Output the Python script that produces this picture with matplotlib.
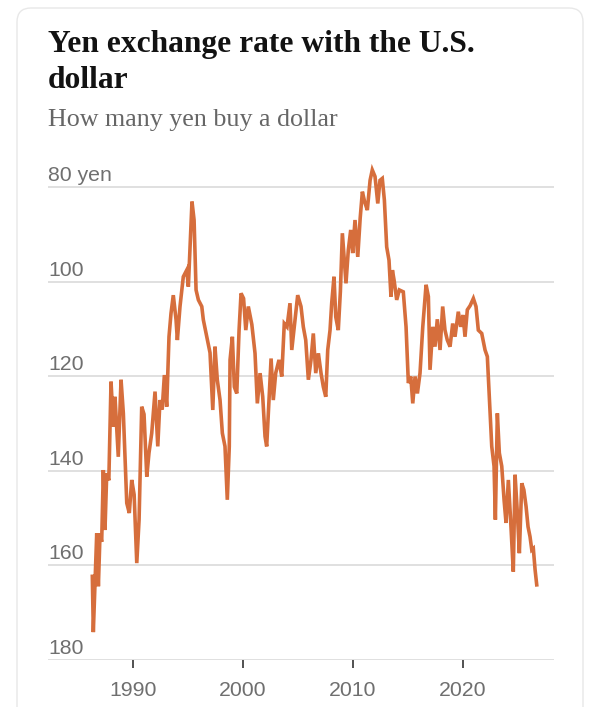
import matplotlib.pyplot as plt
from matplotlib.patches import FancyBboxPatch
from matplotlib.transforms import IdentityTransform

# values (year position, yen per dollar)
years = [
    1986.30, 1986.39, 1986.55, 1986.70, 1986.85, 1987.00, 1987.15, 1987.30, 1987.45, 1987.61,
    1987.80, 1988.00, 1988.21, 1988.36, 1988.66, 1988.91, 1989.12, 1989.43, 1989.66, 1989.88,
    1990.10, 1990.34, 1990.55, 1990.79, 1991.00, 1991.25, 1991.45, 1991.70, 1992.00, 1992.25,
    1992.45, 1992.65, 1992.85, 1993.06, 1993.27, 1993.45, 1993.66, 1993.91, 1994.03, 1994.27,
    1994.57, 1994.88, 1995.03, 1995.18, 1995.36, 1995.55, 1995.73, 1995.94, 1996.25, 1996.39,
    1996.70, 1997.00, 1997.25, 1997.45, 1997.66, 1997.91, 1998.12, 1998.36, 1998.57, 1998.75,
    1998.82, 1999.03, 1999.21, 1999.43, 1999.64, 1999.82, 2000.05, 2000.25, 2000.48, 2000.80,
    2001.09, 2001.30, 2001.55, 2001.79, 2002.00, 2002.15, 2002.55, 2002.75, 2002.97, 2003.27,
    2003.52, 2003.75, 2004.00, 2004.27, 2004.43, 2004.66, 2004.97, 2005.27, 2005.48, 2005.70,
    2005.94, 2006.18, 2006.39, 2006.61, 2006.85, 2007.09, 2007.30, 2007.52, 2007.70, 2007.91,
    2008.06, 2008.27, 2008.43, 2008.66, 2008.85, 2009.03, 2009.21, 2009.36, 2009.57, 2009.79,
    2009.97, 2010.18, 2010.43, 2010.65, 2010.85, 2011.05, 2011.30, 2011.55, 2011.75, 2012.00,
    2012.25, 2012.45, 2012.66, 2012.85, 2013.06, 2013.27, 2013.45, 2013.58, 2013.73, 2013.97,
    2014.21, 2014.57, 2014.82, 2015.03, 2015.25, 2015.43, 2015.64, 2015.85, 2016.09, 2016.34,
    2016.64, 2016.85, 2017.00, 2017.25, 2017.45, 2017.66, 2017.91, 2018.15, 2018.36, 2018.57,
    2018.82, 2019.06, 2019.27, 2019.57, 2019.79, 2020.00, 2020.18, 2020.39, 2020.65, 2020.94,
    2021.18, 2021.39, 2021.70, 2022.00, 2022.21, 2022.45, 2022.61, 2022.82, 2022.94, 2023.12,
    2023.30, 2023.52, 2023.73, 2023.91, 2024.12, 2024.34, 2024.57, 2024.73, 2024.94, 2025.12,
    2025.34, 2025.53, 2025.73, 2025.91, 2026.09, 2026.25, 2026.39, 2026.55, 2026.70,
]
yen = [
    162.3, 174.1, 163.0, 153.2, 164.4, 153.2, 155.0, 139.8, 152.5, 140.5,
    142.0, 121.1, 130.6, 124.3, 137.0, 120.7, 127.8, 146.8, 148.9, 141.9,
    145.0, 159.5, 150.3, 126.4, 128.0, 141.2, 136.2, 132.0, 123.2, 134.8,
    125.0, 127.0, 119.7, 126.4, 111.6, 106.7, 102.8, 108.0, 112.3, 105.2,
    98.9, 97.5, 101.0, 92.6, 83.0, 86.9, 101.7, 103.8, 105.2, 108.0,
    111.6, 115.0, 127.1, 113.7, 120.7, 125.0, 132.0, 134.8, 146.1, 134.8,
    116.5, 111.6, 122.2, 123.6, 110.2, 102.4, 103.5, 110.2, 105.2, 109.0,
    115.1, 125.7, 119.3, 124.3, 132.7, 134.8, 116.2, 125.0, 119.3, 116.5,
    120.0, 108.8, 109.5, 104.5, 114.4, 109.5, 102.8, 105.2, 109.5, 112.3,
    120.7, 116.5, 110.9, 119.3, 115.1, 119.3, 122.2, 124.3, 114.4, 110.2,
    104.5, 98.9, 107.4, 110.2, 102.0, 89.7, 95.4, 100.3, 93.3, 89.0,
    93.9, 86.9, 94.7, 86.5, 80.9, 83.0, 84.8, 78.5, 76.3, 77.7,
    83.4, 78.5, 78.1, 82.7, 92.6, 95.4, 103.1, 97.5, 99.6, 103.8,
    101.7, 102.1, 109.5, 121.4, 120.0, 125.7, 120.0, 123.6, 119.3, 109.5,
    100.6, 103.1, 118.6, 109.5, 113.7, 107.9, 114.4, 105.2, 110.2, 112.3,
    113.7, 108.8, 111.6, 106.3, 109.5, 107.0, 111.6, 105.9, 105.0, 103.5,
    105.2, 110.2, 110.9, 114.4, 115.8, 127.1, 134.8, 139.0, 150.3, 127.8,
    136.2, 139.0, 146.1, 151.0, 141.9, 151.0, 161.3, 140.8, 148.9, 157.4,
    142.6, 144.0, 147.5, 151.8, 153.9, 156.7, 156.4, 160.9, 164.1,
]
grid_levels = [80, 100, 120, 140, 160, 180]
grid_labels = ["80 yen", "100", "120", "140", "160", "180"]
decades = [1990, 2000, 2010, 2020]

line_color = "#d66e3c"
label_color = "#6f6f6f"

fig = plt.figure(figsize=(6.0, 7.07), dpi=100)

# card outline
card = FancyBboxPatch((17, -30), 566, 729, boxstyle="round,pad=0,rounding_size=14",
                      transform=IdentityTransform(), facecolor="none",
                      edgecolor="#e8e8e8", linewidth=1.0, zorder=-1)
fig.patches.append(card)

fig.text(48 / 600, 1 - 52 / 707, "Yen exchange rate with the U.S.",
         family="Liberation Serif", weight="bold", fontsize=22.7,
         color="#121212", va="baseline")
fig.text(48 / 600, 1 - 88 / 707, "dollar",
         family="Liberation Serif", weight="bold", fontsize=22.7,
         color="#121212", va="baseline")
fig.text(48 / 600, 1 - 126 / 707, "How many yen buy a dollar",
         family="Liberation Serif", fontsize=18.7, color="#666666", va="baseline")

ax = fig.add_axes([48 / 600, 1 - 660 / 707, 506 / 600, 500 / 707])
ax.set_facecolor("none")
ax.plot(years, yen, color=line_color, linewidth=2.6, solid_joinstyle="miter", zorder=3)

ax.set_xlim(1982.27, 2028.27)
ax.set_ylim(180, 74.2)

ax.set_yticks(grid_levels)
ax.set_yticklabels([])
ax.tick_params(axis="y", length=0)
ax.grid(axis="y", color="#dddddd", linewidth=1.3, zorder=1)
for lvl, lab in zip(grid_levels, grid_labels):
    ax.text(0, lvl - 1.3, lab, transform=ax.get_yaxis_transform(),
            ha="left", va="baseline", fontsize=15.3, color=label_color,
            family="Liberation Sans")

ax.set_xticks(decades)
ax.set_xticklabels([str(d) for d in decades], fontsize=15.3, color=label_color,
                   family="Liberation Sans")
ax.tick_params(axis="x", direction="out", length=6, width=1.2, color="#333333", pad=9)

for s in ["top", "left", "right", "bottom"]:
    ax.spines[s].set_visible(False)

fig.savefig("out.png", dpi=100)
